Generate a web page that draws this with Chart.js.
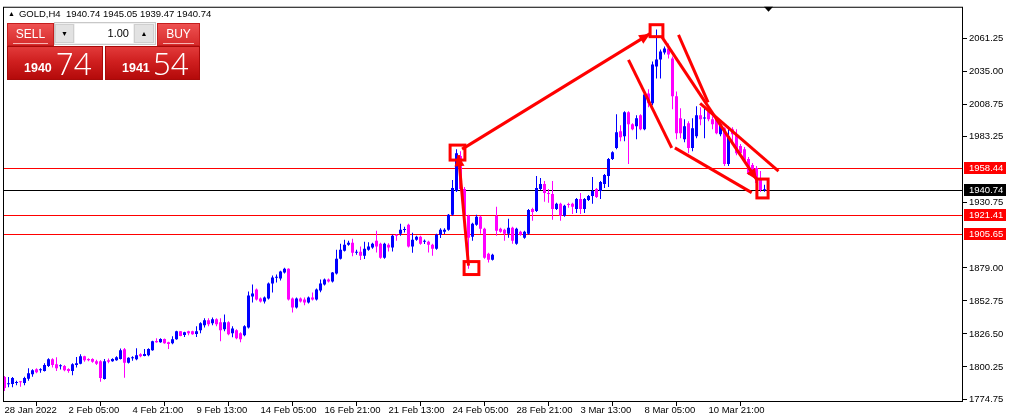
<!DOCTYPE html>
<html>
<head>
<meta charset="utf-8">
<script src="https://cdn.jsdelivr.net/npm/chart.js@4/dist/chart.umd.min.js"></script>
<style>
  html, body { margin: 0; padding: 0; background: #fff; }
  #wrap { position: relative; width: 1012px; height: 418px; overflow: hidden; font-family: "Liberation Sans", Arial, sans-serif; }
  #c { position: absolute; left: 0; top: 0; }
  .abs { position: absolute; box-sizing: border-box; }
  #hdr { left: 8px; top: 8px; font-size: 9.5px; line-height: 11px; color: #000; white-space: pre; }
  #hdr .tri { font-size: 7px; vertical-align: 1px; margin-right: 4px; }
  .btn { color: #fff; font-size: 12px; text-align: center; line-height: 21px;
         background: linear-gradient(#ee5151, #d62b2b); border: 1px solid #c51d1d; }
  .btn .ul { position: absolute; left: 5px; right: 5px; bottom: 1px; height: 1px; background: #f7b3b3; }
  .px { background: linear-gradient(#e23a3a 0%, #cf1f1f 45%, #b40a0a 100%); border: 1px solid #a80a0a; color: #fff; }
  .px .sm { position: absolute; bottom: 4px; font-size: 12.5px; font-weight: bold; }
  .px .lg { position: absolute; bottom: 0px; font-size: 31px; line-height: 31px; font-family: "Open Sans", "Liberation Sans", sans-serif; font-weight: 300; }
  .lot { background: #f0f0f0; border: 1px solid #c8c8c8; }
  .arr { background: #e2e2e2; border: 1px solid #cfcfcf; font-size: 7px; text-align: center; line-height: 17px; color: #000; }
  .val { background: #fff; font-size: 11px; text-align: right; padding-right: 4px; line-height: 19px; color: #000; }
</style>
</head>
<body>
<div id="wrap">
  <canvas id="c" width="1012" height="418"></canvas>
  <div id="hdr" class="abs"><span class="tri">&#9650;</span>GOLD,H4  1940.74 1945.05 1939.47 1940.74</div>

  <!-- one click trading panel -->
  <div class="abs lot" style="left:54px;top:22px;width:102px;height:23px;"></div>
  <div class="abs arr" style="left:55px;top:24px;width:19px;height:19px;">&#9660;</div>
  <div class="abs val" style="left:75px;top:24px;width:58px;height:19px;">1.00</div>
  <div class="abs arr" style="left:134px;top:24px;width:20px;height:19px;">&#9650;</div>
  <div class="abs btn" style="left:7px;top:23px;width:47px;height:23px;">SELL<div class="ul"></div></div>
  <div class="abs btn" style="left:157px;top:23px;width:43px;height:23px;">BUY<div class="ul"></div></div>
  <div class="abs px" style="left:7px;top:46px;width:96px;height:34px;">
    <span class="sm" style="left:16px;">1940</span><span class="lg" style="left:48px;">74</span>
  </div>
  <div class="abs px" style="left:105px;top:46px;width:95px;height:34px;">
    <span class="sm" style="left:16px;">1941</span><span class="lg" style="left:47px;">54</span>
  </div>
</div>

<script>
// GOLD H4 candles, 28 Jan 2022 .. 11 Mar 2022 (one entry per bar)
const open = [
  1792.2, 1786.4, 1786.6, 1787.5, 1788.3, 1787.4, 1790.8, 1794.5, 1798.5, 1797.6,
  1797.1, 1800.9, 1806.4, 1802.4, 1800.8, 1800.9, 1798.7, 1797.1, 1801.7, 1802.7,
  1808.8, 1806.6, 1806.6, 1804.8, 1804.8, 1790.6, 1805.6, 1804.8, 1805.6, 1806.6,
  1814.3, 1803.5, 1807.1, 1806.4, 1810.4, 1809.0, 1809.6, 1813.5, 1820.9, 1819.9,
  1822.5, 1819.9, 1819.1, 1822.2, 1828.6, 1825.7, 1828.6, 1828.6, 1826.4, 1829.4,
  1833.3, 1837.3, 1834.9, 1838.1, 1835.7, 1830.2, 1835.7, 1827.0, 1829.4, 1827.0,
  1825.4, 1831.7, 1856.3, 1861.8, 1854.7, 1852.3, 1854.7, 1866.6, 1871.2, 1870.5,
  1875.3, 1878.4, 1854.7, 1847.6, 1854.7, 1853.9, 1851.5, 1855.5, 1853.9, 1861.0,
  1865.8, 1869.7, 1868.1, 1874.5, 1886.3, 1892.7, 1897.4, 1899.0, 1891.0, 1891.9,
  1888.7, 1893.5, 1895.1, 1900.6, 1898.2, 1887.1, 1897.4, 1895.1, 1905.3, 1906.1,
  1909.2, 1913.2, 1895.9, 1901.4, 1903.8, 1899.7, 1899.8, 1897.4, 1894.3, 1905.3,
  1907.7, 1909.3, 1921.2, 1940.2, 1967.9, 1941.7, 1920.4, 1903.8, 1913.2, 1919.6,
  1910.1, 1890.3, 1885.5, 1920.4, 1910.1, 1909.3, 1906.1, 1910.9, 1898.2, 1907.7,
  1902.9, 1906.1, 1925.9, 1924.3, 1941.7, 1945.7, 1938.6, 1937.8, 1925.9, 1929.9,
  1920.4, 1929.2, 1929.9, 1925.9, 1933.8, 1925.9, 1933.0, 1936.2, 1941.7, 1940.2,
  1945.7, 1952.0, 1965.5, 1974.2, 1987.6, 1983.7, 2002.7, 1993.2, 1991.6, 2000.3,
  1989.2, 2017.7, 2009.8, 2039.1, 2044.6, 2050.2, 2053.3, 2045.4, 2015.4, 1997.9,
  1981.3, 1994.0, 1974.2, 1983.7, 2000.3, 1997.8, 2003.5, 1997.1, 1997.9, 1985.3,
  1990.0, 1961.5, 1989.2, 1985.3, 1975.8, 1973.4, 1965.5, 1960.7, 1958.4, 1948.9,
  1940.74
];
const high = [
  1793.0, 1792.2, 1792.2, 1789.2, 1789.0, 1792.4, 1799.3, 1798.5, 1799.3, 1799.3,
  1803.2, 1807.2, 1807.2, 1808.0, 1802.4, 1801.7, 1799.3, 1803.2, 1808.2, 1810.4,
  1809.2, 1807.2, 1807.2, 1805.9, 1805.6, 1806.6, 1807.0, 1807.2, 1808.8, 1814.9,
  1815.4, 1808.0, 1808.8, 1815.1, 1811.2, 1814.6, 1815.1, 1821.0, 1823.0, 1823.0,
  1822.8, 1820.3, 1824.6, 1829.0, 1828.8, 1828.2, 1829.1, 1829.0, 1832.5, 1835.7,
  1838.9, 1838.9, 1839.6, 1838.9, 1838.9, 1842.0, 1836.5, 1832.5, 1830.2, 1827.8,
  1833.3, 1860.2, 1865.8, 1862.6, 1855.5, 1856.3, 1867.4, 1872.9, 1873.7, 1876.8,
  1879.2, 1878.8, 1855.5, 1855.5, 1855.5, 1855.5, 1856.3, 1859.4, 1862.6, 1869.7,
  1870.5, 1870.5, 1875.7, 1893.5, 1898.2, 1901.4, 1900.6, 1902.2, 1893.5, 1895.9,
  1899.8, 1899.3, 1899.0, 1908.5, 1899.0, 1899.0, 1898.5, 1905.3, 1905.9, 1914.0,
  1911.7, 1914.0, 1906.9, 1904.5, 1904.5, 1901.6, 1900.6, 1898.2, 1906.1, 1910.6,
  1910.6, 1921.9, 1948.9, 1973.4, 1971.8, 1943.3, 1921.2, 1914.8, 1921.2, 1920.4,
  1910.9, 1891.1, 1890.3, 1927.5, 1910.9, 1910.1, 1918.0, 1911.7, 1910.9, 1908.5,
  1908.5, 1925.9, 1926.7, 1952.0, 1950.4, 1948.1, 1941.7, 1948.1, 1930.7, 1930.7,
  1929.1, 1930.7, 1930.7, 1934.6, 1938.6, 1934.6, 1937.0, 1951.2, 1942.5, 1948.1,
  1953.6, 1966.3, 1971.8, 2001.1, 1992.4, 2003.5, 2003.5, 1994.0, 2000.3, 2001.1,
  2017.7, 2020.9, 2043.0, 2068.4, 2052.5, 2054.9, 2057.3, 2047.0, 2019.3, 2005.9,
  1997.1, 1995.6, 1997.9, 2007.4, 2006.6, 2005.9, 2004.3, 1999.5, 1999.5, 1994.8,
  1990.8, 1991.6, 1990.8, 1989.2, 1977.4, 1975.0, 1967.1, 1962.3, 1959.9, 1956.0,
  1945.05
];
const low = [
  1781.1, 1784.2, 1784.2, 1785.6, 1784.5, 1785.6, 1789.2, 1792.4, 1795.3, 1795.6,
  1796.7, 1800.3, 1799.8, 1797.1, 1798.3, 1796.9, 1795.6, 1793.7, 1799.8, 1802.4,
  1804.3, 1804.8, 1803.6, 1801.7, 1788.4, 1790.3, 1803.2, 1804.4, 1805.2, 1806.2,
  1791.6, 1802.9, 1805.1, 1805.6, 1808.0, 1808.8, 1808.8, 1813.1, 1819.5, 1819.5,
  1818.7, 1814.6, 1818.3, 1821.8, 1824.6, 1824.1, 1825.4, 1825.8, 1824.1, 1827.0,
  1831.7, 1832.5, 1833.3, 1832.5, 1820.7, 1828.6, 1825.4, 1823.8, 1822.2, 1819.9,
  1824.6, 1830.9, 1851.5, 1853.1, 1851.5, 1850.7, 1853.9, 1859.4, 1867.4, 1868.9,
  1874.5, 1853.1, 1843.6, 1846.8, 1851.5, 1849.2, 1850.7, 1853.1, 1853.1, 1859.7,
  1865.0, 1867.4, 1867.4, 1873.7, 1885.6, 1892.1, 1896.6, 1888.2, 1889.5, 1885.3,
  1886.1, 1892.7, 1894.3, 1891.3, 1886.3, 1886.3, 1892.1, 1892.1, 1900.6, 1904.5,
  1907.2, 1895.1, 1891.1, 1900.6, 1897.4, 1898.0, 1891.3, 1888.7, 1893.5, 1902.7,
  1905.9, 1908.5, 1920.4, 1939.4, 1940.2, 1918.8, 1878.4, 1900.6, 1912.5, 1906.1,
  1886.3, 1883.2, 1884.8, 1904.5, 1906.9, 1900.6, 1902.9, 1898.2, 1897.4, 1904.5,
  1902.1, 1905.3, 1916.4, 1923.5, 1940.9, 1931.5, 1930.7, 1917.2, 1925.1, 1916.4,
  1919.6, 1926.7, 1921.9, 1922.7, 1921.9, 1922.7, 1932.2, 1929.9, 1934.6, 1933.8,
  1942.5, 1943.3, 1964.7, 1973.4, 1979.7, 1979.7, 1961.5, 1988.4, 1981.3, 1988.4,
  1988.4, 2006.6, 2008.2, 2029.6, 2029.6, 2048.6, 2045.4, 2005.1, 1981.3, 1982.1,
  1978.9, 1970.2, 1971.8, 1982.1, 1992.4, 1982.1, 1995.6, 1989.2, 1985.3, 1983.7,
  1959.9, 1959.9, 1979.7, 1968.6, 1967.1, 1962.3, 1952.8, 1954.4, 1944.9, 1939.4,
  1939.47
];
const close = [
  1783.5, 1786.8, 1791.4, 1787.8, 1788.0, 1791.4, 1795.3, 1797.7, 1796.1, 1797.8,
  1801.7, 1806.4, 1801.7, 1799.3, 1801.0, 1797.7, 1797.1, 1802.4, 1803.2, 1808.8,
  1805.6, 1805.6, 1804.3, 1802.7, 1791.4, 1804.8, 1804.3, 1806.6, 1808.0, 1813.5,
  1803.5, 1807.5, 1807.3, 1809.6, 1808.8, 1810.6, 1814.6, 1820.7, 1819.9, 1822.5,
  1819.1, 1818.5, 1822.2, 1828.6, 1824.8, 1827.8, 1827.0, 1826.2, 1828.6, 1834.9,
  1837.3, 1834.1, 1838.1, 1834.1, 1829.4, 1835.7, 1826.2, 1830.9, 1823.0, 1822.2,
  1832.5, 1857.1, 1858.6, 1853.9, 1852.3, 1855.5, 1866.6, 1871.3, 1871.5, 1876.1,
  1878.4, 1853.9, 1847.6, 1854.7, 1852.3, 1851.5, 1855.5, 1853.9, 1861.8, 1866.6,
  1869.7, 1868.1, 1875.3, 1886.3, 1893.5, 1897.4, 1899.0, 1891.1, 1891.2, 1888.7,
  1894.3, 1895.9, 1898.2, 1895.9, 1887.1, 1898.2, 1895.1, 1904.5, 1904.5, 1909.3,
  1909.4, 1895.9, 1901.4, 1903.8, 1898.2, 1899.9, 1897.4, 1894.3, 1905.3, 1909.3,
  1909.3, 1921.2, 1942.5, 1970.2, 1941.7, 1920.4, 1902.9, 1914.0, 1919.6, 1910.1,
  1887.1, 1885.5, 1889.5, 1908.5, 1907.7, 1906.1, 1910.9, 1900.6, 1910.1, 1905.3,
  1907.7, 1925.1, 1923.5, 1942.5, 1945.7, 1938.6, 1937.8, 1925.9, 1929.9, 1920.4,
  1928.3, 1929.0, 1927.5, 1933.8, 1925.9, 1933.8, 1936.2, 1940.2, 1935.4, 1947.3,
  1952.8, 1965.5, 1971.0, 1986.9, 1982.9, 2002.7, 1993.2, 1989.2, 1997.9, 1989.2,
  2016.9, 2009.8, 2040.7, 2044.6, 2051.0, 2053.3, 2048.6, 2015.4, 1986.1, 1986.1,
  1991.6, 1974.2, 1990.0, 2000.3, 1997.1, 1998.0, 1997.1, 1993.2, 1986.1, 1993.2,
  1961.5, 1983.7, 1985.3, 1970.2, 1970.2, 1963.9, 1954.4, 1956.0, 1946.5, 1940.9,
  1940.74
];

// time axis labels, one every 16 bars
const tickLabels = ['28 Jan 2022', '2 Feb 05:00', '4 Feb 21:00', '9 Feb 13:00', '14 Feb 05:00', '16 Feb 21:00',
  '21 Feb 13:00', '24 Feb 05:00', '28 Feb 21:00', '3 Mar 13:00', '8 Mar 05:00', '10 Mar 21:00'];
const priceTicks = [1774.75, 1800.25, 1826.50, 1852.75, 1879.00, 1930.75, 1983.25, 2008.75, 2035.00, 2061.25];

// horizontal price levels (bid line is the black one)
const levels = [1958.44, 1940.74, 1921.41, 1905.65];
const levelColors = ['#ff0000', '#000000', '#ff0000', '#ff0000'];

// drawn objects: [bar1, price1, bar2, price2]
const trendLines = [
  [156.0, 2044.4, 166.8, 1974.4],
  [167.6, 1974.4, 186.8, 1938.8],
  [173.9, 2009.8, 193.5, 1956.0],
  [168.5, 2064.2, 175.9, 2010.6]
];
const arrows = [
  [114.4, 1973.4, 161.4, 2065.2],
  [116.0, 1880.8, 113.5, 1968.6],
  [164.3, 2062.8, 188.1, 1948.9]
];
const boxes = [
  [111.4, 1976.6, 115.1, 1964.7],
  [114.9, 1884.0, 118.6, 1873.7],
  [161.4, 2072.3, 164.6, 2062.8],
  [188.1, 1949.6, 190.9, 1934.6]
];

const BULL = '#0000ff';
const BEAR = '#ff00ff';
const FONT = { family: '"Liberation Sans", Arial, sans-serif', size: 9.5, lineHeight: 1 };

const colors = open.map((o, i) => close[i] >= o ? BULL : BEAR);
const wickData = low.map((l, i) => ({ x: i, y: [l, high[i]] }));
const bodyData = open.map((o, i) => ({ x: i, y: [o, close[i]] }));

function drawArrowHead(ctx, x1, y1, x2, y2) {
  const ang = Math.atan2(y2 - y1, x2 - x1);
  const len = 11, half = 5;
  ctx.beginPath();
  ctx.moveTo(x2, y2);
  ctx.lineTo(x2 - len * Math.cos(ang) + half * Math.sin(ang), y2 - len * Math.sin(ang) - half * Math.cos(ang));
  ctx.lineTo(x2 - len * Math.cos(ang) - half * Math.sin(ang), y2 - len * Math.sin(ang) + half * Math.cos(ang));
  ctx.closePath();
  ctx.fill();
}

const overlay = {
  id: 'overlay',
  beforeDatasetsDraw(chart) {
    const { ctx, chartArea: a, scales: { y } } = chart;
    ctx.save();
    ctx.lineWidth = 1;
    levels.forEach((v, k) => {
      const py = Math.round(y.getPixelForValue(v)) + 0.5;
      ctx.strokeStyle = levelColors[k];
      ctx.beginPath();
      ctx.moveTo(a.left, py);
      ctx.lineTo(a.right, py);
      ctx.stroke();
    });
    ctx.restore();
  },
  afterDatasetsDraw(chart) {
    const { ctx, chartArea: a, scales: { x, y } } = chart;
    ctx.save();
    ctx.beginPath();
    ctx.rect(a.left, a.top, a.right - a.left, a.bottom - a.top);
    ctx.clip();
    ctx.strokeStyle = '#ff0000';
    ctx.fillStyle = '#ff0000';
    ctx.lineWidth = 3;
    trendLines.concat(arrows).forEach(l => {
      ctx.beginPath();
      ctx.moveTo(x.getPixelForValue(l[0]), y.getPixelForValue(l[1]));
      ctx.lineTo(x.getPixelForValue(l[2]), y.getPixelForValue(l[3]));
      ctx.stroke();
    });
    arrows.forEach(l => {
      drawArrowHead(ctx, x.getPixelForValue(l[0]), y.getPixelForValue(l[1]),
        x.getPixelForValue(l[2]), y.getPixelForValue(l[3]));
    });
    boxes.forEach(b => {
      const x1 = x.getPixelForValue(b[0]), y1 = y.getPixelForValue(b[1]);
      const x2 = x.getPixelForValue(b[2]), y2 = y.getPixelForValue(b[3]);
      ctx.strokeRect(x1, y1, x2 - x1, y2 - y1);
    });
    ctx.restore();
  },
  afterDraw(chart) {
    const { ctx, chartArea: a, scales: { y } } = chart;
    ctx.save();
    // chart frame
    ctx.strokeStyle = '#000';
    ctx.lineWidth = 1;
    ctx.strokeRect(a.left + 0.5, a.top + 0.5, a.right - a.left - 1, a.bottom - a.top - 1);
    // shift marker
    ctx.fillStyle = '#000';
    ctx.beginPath();
    ctx.moveTo(764, a.top);
    ctx.lineTo(773, a.top);
    ctx.lineTo(768.5, a.top + 5);
    ctx.closePath();
    ctx.fill();
    // price labels on the axis
    ctx.font = FONT.size + 'px ' + FONT.family;
    ctx.textBaseline = 'middle';
    ctx.textAlign = 'left';
    levels.forEach((v, k) => {
      const py = Math.round(y.getPixelForValue(v));
      ctx.fillStyle = levelColors[k];
      ctx.fillRect(a.right + 1, py - 6, 42, 12);
      ctx.fillStyle = '#fff';
      ctx.fillText(v.toFixed(2), a.right + 6, py + 0.5);
    });
    ctx.restore();
  }
};

new Chart(document.getElementById('c'), {
  type: 'bar',
  data: {
    datasets: [
      {
        data: wickData,
        backgroundColor: colors,
        barThickness: 1,
        grouped: false,
        borderWidth: 0,
        inflateAmount: 0
      },
      {
        data: bodyData,
        backgroundColor: colors,
        barThickness: 3,
        minBarLength: 1,
        grouped: false,
        borderWidth: 0,
        inflateAmount: 0
      }
    ]
  },
  options: {
    responsive: false,
    devicePixelRatio: 1,
    animation: false,
    layout: { padding: { left: 3, top: 5, right: 0, bottom: 0 } },
    plugins: { legend: { display: false }, tooltip: { enabled: false } },
    scales: {
      x: {
        type: 'linear',
        min: -0.375,
        max: 239.625,
        offset: false,
        border: { display: false },
        grid: { display: true, drawOnChartArea: false, drawTicks: true, tickLength: 4, color: '#000' },
        afterBuildTicks: s => { s.ticks = tickLabels.map((t, k) => ({ value: k * 16 })); },
        afterFit: s => { s.height = 16; },
        ticks: {
          autoSkip: false,
          maxRotation: 0,
          align: 'start',
          padding: 0,
          color: '#000',
          font: FONT,
          callback: v => tickLabels[Math.round(v / 16)]
        }
      },
      y: {
        position: 'right',
        min: 1772.38,
        max: 2086.58,
        border: { display: false },
        grid: { display: true, drawOnChartArea: false, drawTicks: true, tickLength: 4, color: '#000' },
        afterBuildTicks: s => { s.ticks = priceTicks.map(v => ({ value: v })); },
        afterFit: s => { s.width = 49; },
        ticks: {
          autoSkip: false,
          padding: 2,
          color: '#000',
          font: FONT,
          callback: v => v.toFixed(2)
        }
      }
    }
  },
  plugins: [overlay]
});
</script>
</body>
</html>
